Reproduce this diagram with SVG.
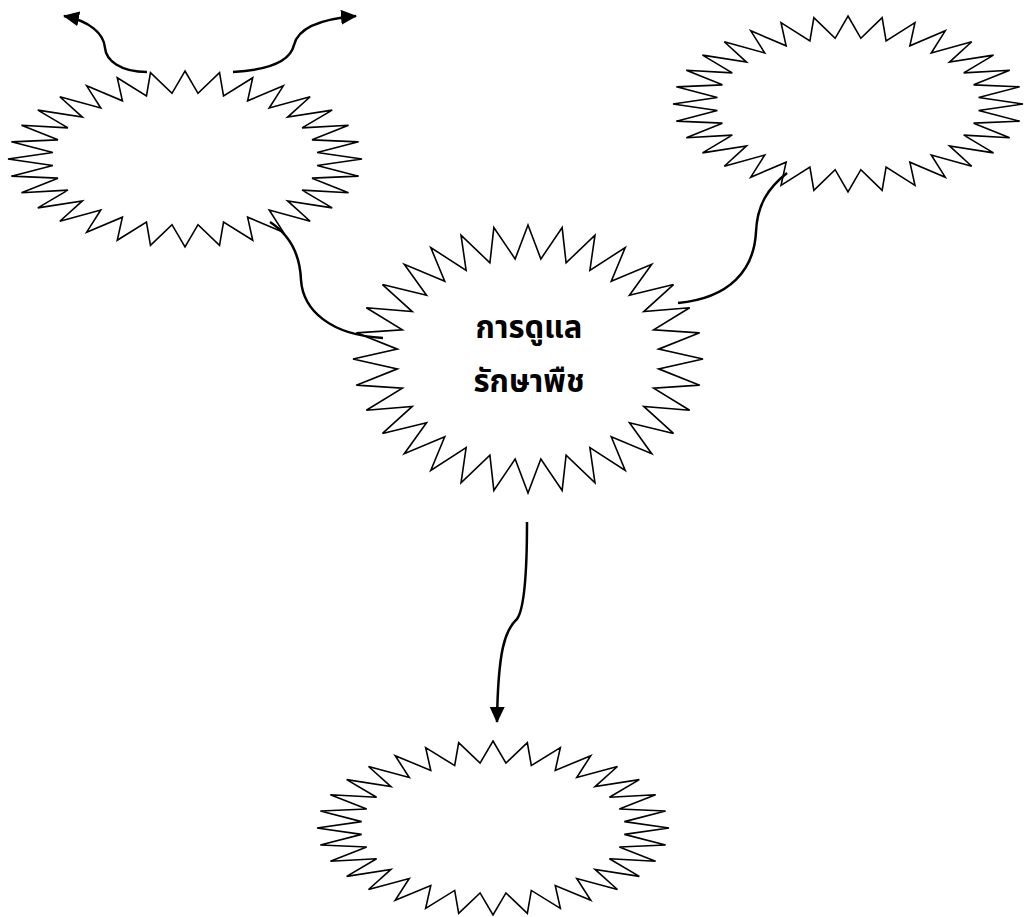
<svg xmlns="http://www.w3.org/2000/svg" xmlns:xlink="http://www.w3.org/1999/xlink" width="1025" height="917" viewBox="0 0 1025 917">
<style>
.star{fill:#ffffff;stroke:#000000;stroke-width:1.6;stroke-linejoin:miter;vector-effect:non-scaling-stroke}
.conn{fill:none;stroke:#000000;stroke-width:2.5}
.lbl{font-family:"Noto Sans Thai","Noto Sans","DejaVu Sans",sans-serif;font-weight:bold;font-size:31px;fill:#000000;text-anchor:middle}
</style>
<defs>
<polygon id="star32" class="star" points="0,-100 7.35,-74.64 19.51,-98.08 21.77,-71.77 38.27,-92.39 35.36,-66.14 55.56,-83.15 47.58,-57.98 70.71,-70.71 57.98,-47.58 83.15,-55.56 66.14,-35.36 92.39,-38.27 71.77,-21.77 98.08,-19.51 74.64,-7.35 100,0 74.64,7.35 98.08,19.51 71.77,21.77 92.39,38.27 66.14,35.36 83.15,55.56 57.98,47.58 70.71,70.71 47.58,57.98 55.56,83.15 35.36,66.14 38.27,92.39 21.77,71.77 19.51,98.08 7.35,74.64 0,100 -7.35,74.64 -19.51,98.08 -21.77,71.77 -38.27,92.39 -35.36,66.14 -55.56,83.15 -47.58,57.98 -70.71,70.71 -57.98,47.58 -83.15,55.56 -66.14,35.36 -92.39,38.27 -71.77,21.77 -98.08,19.51 -74.64,7.35 -100,0 -74.64,-7.35 -98.08,-19.51 -71.77,-21.77 -92.39,-38.27 -66.14,-35.36 -83.15,-55.56 -57.98,-47.58 -70.71,-70.71 -47.58,-57.98 -55.56,-83.15 -35.36,-66.14 -38.27,-92.39 -21.77,-71.77 -19.51,-98.08 -7.35,-74.64"/>
<marker id="arrow" markerUnits="userSpaceOnUse" markerWidth="16" markerHeight="15" viewBox="0 0 16 15" refX="15" refY="7.5" orient="auto">
<path d="M0,0 L16,7.5 L0,15 z" fill="#000000"/>
</marker>
</defs>
<g id="node-topleft">
<use href="#star32" xlink:href="#star32" transform="translate(185,159) scale(1.77,0.88)"/>
</g>
<g id="node-topright">
<use href="#star32" xlink:href="#star32" transform="translate(848,104) scale(1.75,0.88)"/>
</g>
<g id="node-bottom">
<use href="#star32" xlink:href="#star32" transform="translate(493,828) scale(1.76,0.87)"/>
</g>
<g id="node-center">
<use href="#star32" xlink:href="#star32" transform="translate(528,359) scale(1.75,1.34)"/>
<text class="lbl" x="529" y="338">การดูแล</text>
<text class="lbl" x="529" y="392">รักษาพืช</text>
</g>
<g id="connectors">
<path class="conn" d="M147,72 C120,72 106,60 105,48 C104,34 90,21 64,16" marker-end="url(#arrow)"/>
<path class="conn" d="M233,72 C268,70 290,62 294,45 C298,28 320,19 356,16" marker-end="url(#arrow)"/>
<path class="conn" d="M270,222 C290,235 300,255 301,280 C303,310 330,335 383,338"/>
<path class="conn" d="M787,173 C768,188 757,205 756,232 C754,270 730,298 678,303"/>
<path class="conn" d="M527,522 C527,570 525,608 517,619 C505,630 498,650 497,722" marker-end="url(#arrow)"/>
</g>
</svg>
